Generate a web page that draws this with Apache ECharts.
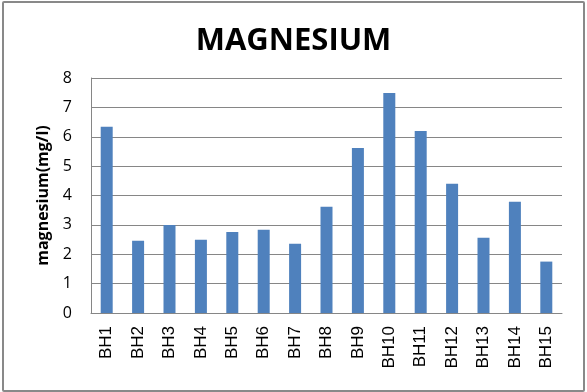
<!DOCTYPE html>
<html>
<head>
<meta charset="utf-8">
<script src="https://cdn.jsdelivr.net/npm/echarts@6/dist/echarts.min.js"></script>
<style>
  html, body { margin: 0; padding: 0; background: #fff; }
  #frame {
    position: absolute; left: 2px; top: 1px; width: 579px; height: 387px;
    border: 2px solid #898989; border-radius: 2px; background: #fff;
  }
  #chart { position: absolute; left: 0; top: 0; width: 587px; height: 392px; }
</style>
</head>
<body>
<div id="frame"></div>
<div id="chart"></div>
<script>
const categories = ['BH1', 'BH2', 'BH3', 'BH4', 'BH5', 'BH6', 'BH7', 'BH8', 'BH9', 'BH10', 'BH11', 'BH12', 'BH13', 'BH14', 'BH15']
const magnesium = [6.34, 2.46, 3.0, 2.49, 2.76, 2.83, 2.36, 3.62, 5.62, 7.49, 6.2, 4.4, 2.56, 3.79, 1.75]

const chart = echarts.init(document.getElementById('chart'))

chart.setOption({
  animation: false,
  title: {
    text: 'MAGNESIUM',
    left: 'center',
    top: 21,
    textStyle: {
      fontFamily: 'Open Sans',
      fontWeight: 'bold',
      fontSize: 31,
      color: '#000'
    }
  },
  grid: {
    left: 91,
    right: 25,
    top: 78,
    bottom: 79
  },
  xAxis: {
    type: 'category',
    data: categories,
    axisLine: { lineStyle: { color: '#868686', width: 1 } },
    axisTick: { show: false },
    axisLabel: {
      rotate: 90,
      margin: 13,
      color: '#000',
      fontFamily: 'Liberation Sans',
      fontSize: 17
    }
  },
  yAxis: {
    type: 'value',
    min: 0,
    max: 8,
    interval: 1,
    name: 'magnesium(mg/l)',
    nameLocation: 'middle',
    nameGap: 40,
    nameTextStyle: {
      fontFamily: 'Open Sans',
      fontWeight: 'bold',
      fontSize: 16,
      color: '#000'
    },
    axisLine: { show: true, lineStyle: { color: '#868686', width: 1 } },
    axisTick: { show: false },
    axisLabel: {
      margin: 19,
      color: '#000',
      fontFamily: 'Open Sans',
      fontSize: 16
    },
    splitLine: { lineStyle: { color: '#868686', width: 1 } }
  },
  series: [
    {
      name: 'magnesium',
      type: 'bar',
      data: magnesium,
      barWidth: 12,
      itemStyle: { color: '#4F81BD' }
    }
  ]
})
</script>
</body>
</html>
